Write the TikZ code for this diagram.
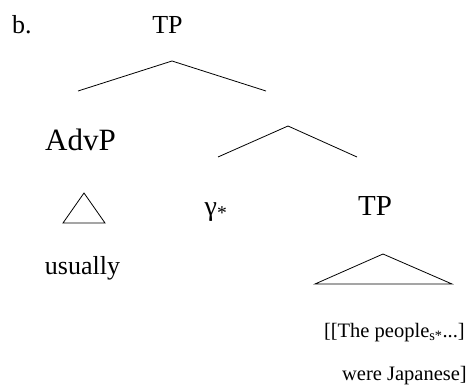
\documentclass[tikz,border=0pt]{standalone}
\usepackage{fontspec}
\setmainfont{Liberation Serif}
\usetikzlibrary{positioning}

\begin{document}
\begin{tikzpicture}[x=1pt, y=-1pt,
    cat/.style={inner sep=0pt, anchor=base, font=\fontsize{26}{30}\selectfont},
    leaf/.style={inner sep=0pt, anchor=base, font=\fontsize{20.5}{24}\selectfont},
    branch/.style={line width=0.8pt}]

    \useasboundingbox (0,0) rectangle (469,388);

    % --- Csomopontok ---
    \node[cat, anchor=base west] (ex) at (12,33) {b.};
    \node[cat] (tp) at (167.5,33) {TP};
    \node[cat, font=\fontsize{31}{36}\selectfont] (advp) at (80.5,150) {AdvP};
    \node[cat, font=\fontsize{28}{32}\selectfont] (gamma) at (216,215) {γ\textsubscript{*}};
    \node[cat, font=\fontsize{29}{34}\selectfont] (tpb) at (375,215) {TP};
    \node[cat] (usually) at (82.5,274) {usually};
    \node[leaf, anchor=base east] (subj) at (465,337) {[[The people\textsubscript{s*}...]};
    \node[leaf, anchor=base east] (pred) at (467,380) {were Japanese]};

    % --- Elagazasok ---
    \coordinate (tp-top) at (172,61);
    \coordinate (tp-left) at (78,91);
    \coordinate (tp-right) at (266,91);
    \draw[branch] (tp-left) -- (tp-top) -- (tp-right);

    \coordinate (tb-top) at (288,126);
    \coordinate (tb-left) at (218,157);
    \coordinate (tb-right) at (357,157);
    \draw[branch] (tb-left) -- (tb-top) -- (tb-right);

    % --- Haromszogek ---
    \draw[branch] (63,223) -- (84,193) -- (105,223) -- cycle;
    \draw[branch] (315,284) -- (383,254) -- (452,284) -- cycle;

\end{tikzpicture}
\end{document}
